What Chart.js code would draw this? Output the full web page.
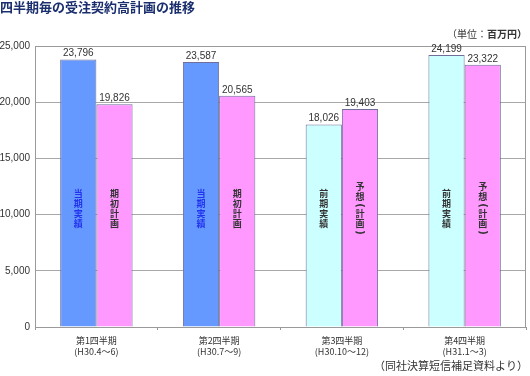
<!DOCTYPE html>
<html>
<head>
<meta charset="utf-8">
<script src="https://cdn.jsdelivr.net/npm/chart.js@4"></script>
<style>
  html, body { margin: 0; padding: 0; background: #fff; }
  #wrap { width: 530px; height: 376px; position: relative; }
</style>
</head>
<body>
<div id="wrap"><canvas id="orderChart"></canvas></div>
<script>
const quarterLabels = [
  ['第1四半期', '(H30.4～6)'],
  ['第2四半期', '(H30.7～9)'],
  ['第3四半期', '(H30.10～12)'],
  ['第4四半期', '(H31.1～3)']
];
const actualValues = [23796, 23587, 18026, 24199];
const planValues = [19826, 20565, 19403, 23322];
const actualTags = ['当期実績', '当期実績', '前期実績', '前期実績'];
const planTags = ['期初計画', '期初計画', '予想(計画)', '予想(計画)'];
const yTicks = [0, 5000, 10000, 15000, 20000, 25000];

const actualColors = ['#6699FF', '#6699FF', '#CCFFFF', '#CCFFFF'];
const actualTagColors = ['#2233EE', '#2233EE', '#333333', '#333333'];

const jpFont = '"Noto Sans CJK JP", sans-serif';

function isParen(c) {
  return c === '(' || c === ')';
}

const decorPlugin = {
  id: 'decor',
  beforeDatasetsDraw(chart) {
    const { ctx, chartArea } = chart;
    ctx.save();
    ctx.strokeStyle = '#9A9A9A';
    ctx.lineWidth = 1;
    ctx.strokeRect(chartArea.left + 0.5, chartArea.top + 0.5,
      chartArea.right - chartArea.left - 1, chartArea.bottom - chartArea.top);
    ctx.restore();
  },
  afterDatasetsDraw(chart) {
    const { ctx } = chart;
    const yScale = chart.scales.y;
    ctx.save();
    // value labels above bars
    ctx.font = '10px "Liberation Sans", Arial, sans-serif';
    ctx.fillStyle = '#333';
    ctx.textAlign = 'center';
    ctx.textBaseline = 'bottom';
    chart.data.datasets.forEach((ds, di) => {
      chart.getDatasetMeta(di).data.forEach((bar, i) => {
        ctx.fillText(ds.data[i].toLocaleString('en-US'), bar.x, bar.y - 1);
      });
    });
    // vertical text inside bars
    const tagSets = [
      { tags: actualTags, colors: actualTagColors },
      { tags: planTags, colors: planTags.map(() => '#333333') }
    ];
    ctx.textBaseline = 'middle';
    const midY = yScale.getPixelForValue(10500);
    tagSets.forEach((set, di) => {
      chart.getDatasetMeta(di).data.forEach((bar, i) => {
        const chars = Array.from(set.tags[i]);
        const steps = chars.map(c => isParen(c) ? 7 : 10);
        const total = steps.reduce((a, b) => a + b, 0);
        let y = midY - total / 2;
        ctx.fillStyle = set.colors[i];
        chars.forEach((c, k) => {
          const cy = y + steps[k] / 2;
          if (isParen(c)) {
            ctx.save();
            ctx.font = 'bold 10px "DejaVu Sans", sans-serif';
            ctx.translate(bar.x, cy);
            ctx.rotate(Math.PI / 2);
            ctx.fillText(c, 0, 0);
            ctx.restore();
          } else {
            ctx.font = 'bold 9px ' + jpFont;
            ctx.fillText(c, bar.x, cy);
          }
          y += steps[k];
        });
      });
    });
    ctx.restore();
  },
  afterDraw(chart) {
    const { ctx, width } = chart;
    ctx.save();
    ctx.textBaseline = 'middle';
    ctx.fillStyle = '#1B2F6E';
    ctx.font = 'bold 13px ' + jpFont;
    ctx.textAlign = 'left';
    ctx.fillText('四半期毎の受注契約高計画の推移', 0, 7);
    ctx.fillStyle = '#333';
    ctx.textAlign = 'right';
    const unitTail = '百万円）';
    ctx.font = 'bold 10px ' + jpFont;
    const tailW = ctx.measureText(unitTail).width;
    ctx.fillText(unitTail, width - 3, 34);
    ctx.font = '10px ' + jpFont;
    ctx.fillText('（単位：', width - 3 - tailW, 34);
    ctx.font = '11px ' + jpFont;
    ctx.fillText('（同社決算短信補足資料より）', width - 2, 366);
    ctx.restore();
  }
};

new Chart(document.getElementById('orderChart'), {
  type: 'bar',
  data: {
    labels: quarterLabels,
    datasets: [
      {
        label: '実績',
        data: actualValues,
        backgroundColor: actualColors,
        borderColor: '#6F6F9A',
        borderWidth: 1,
        barPercentage: 1,
        categoryPercentage: 0.59
      },
      {
        label: '計画',
        data: planValues,
        backgroundColor: '#FF99FF',
        borderColor: '#6F6F9A',
        borderWidth: 1,
        barPercentage: 1,
        categoryPercentage: 0.59
      }
    ]
  },
  options: {
    responsive: true,
    maintainAspectRatio: false,
    animation: false,
    layout: { padding: { top: 46, right: 4, left: 0, bottom: 0 } },
    plugins: {
      legend: { display: false },
      tooltip: { enabled: false }
    },
    scales: {
      x: {
        grid: { drawOnChartArea: false, tickLength: 3, color: '#999' },
        border: { color: '#999' },
        ticks: {
          color: '#333',
          font: { size: 9, family: jpFont },
          padding: 5,
          maxRotation: 0
        },
        afterFit(scale) { scale.height = 49; }
      },
      y: {
        min: 0,
        max: 25000,
        afterBuildTicks(scale) { scale.ticks = yTicks.map(v => ({ value: v })); },
        grid: { color: '#A8A8A8', drawTicks: false },
        border: { display: false },
        ticks: {
          color: '#333',
          padding: 5,
          font: { size: 10, family: '"Liberation Sans", Arial, sans-serif' },
          callback: v => v.toLocaleString('en-US')
        },
        afterFit(scale) { scale.width = 35; }
      }
    }
  },
  plugins: [decorPlugin]
});
</script>
</body>
</html>
